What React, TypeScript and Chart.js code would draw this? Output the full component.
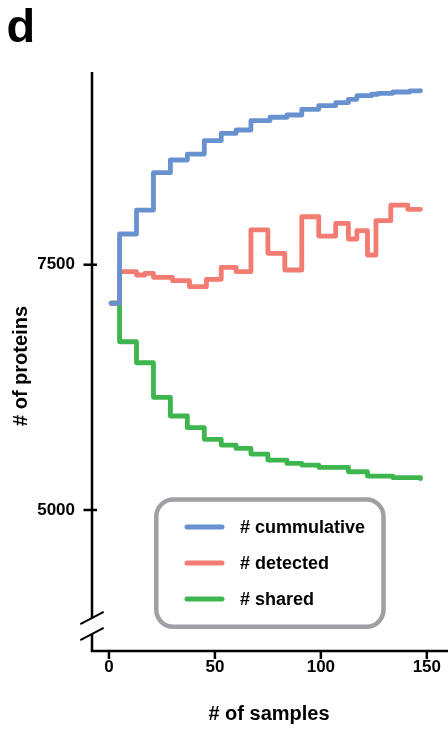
import React, { useEffect, useRef } from "react";
import { Chart, registerables } from "chart.js";

Chart.register(...registerables);

// Sample index at which each series changes level, and the level it takes there.
const cumulativeSamples = [1, 5, 13, 21, 29, 37, 45, 53, 60, 67, 76, 84, 91, 99, 107, 113, 117, 124, 127, 134, 142, 147];
const cumulativeValues = [7107, 7813, 8057, 8438, 8567, 8628, 8764, 8839, 8873, 8968, 9003, 9026, 9084, 9121, 9151, 9186, 9223, 9237, 9247, 9260, 9271, 9275];

const detectedSamples = [1, 5, 13, 17, 21, 30, 38, 46, 53, 60, 67, 75, 83, 91, 99, 107, 113, 117, 122, 126, 133, 141, 147];
const detectedValues = [7107, 7429, 7395, 7412, 7371, 7337, 7276, 7351, 7473, 7429, 7854, 7616, 7446, 7989, 7792, 7922, 7762, 7847, 7599, 7949, 8108, 8064, 8064];

const sharedSamples = [1, 5, 13, 21, 29, 37, 45, 53, 60, 67, 75, 84, 91, 99, 113, 122, 134, 147];
const sharedValues = [7107, 6715, 6501, 6148, 5958, 5839, 5720, 5662, 5628, 5570, 5509, 5475, 5458, 5435, 5390, 5346, 5329, 5319];

const seriesLabels = ["# cummulative", "# detected", "# shared"];
const xTickValues = [0, 50, 100, 150];
const yTickValues = [5000, 7500];
const xTitle = "# of samples";
const yTitle = "# of proteins";
const panelLetter = "d";

const COLORS = ["#6892CF", "#F27B72", "#3EB64E"];
const FONT = "'Liberation Sans', Arial, Helvetica, sans-serif";

const toPoints = (xs: number[], ys: number[]) => xs.map((x, i) => ({ x, y: ys[i] }));

// Axes with a broken y axis, tick marks, titles, panel letter and a boxed legend.
const decorPlugin = {
  id: "decor",
  afterDraw(chart: any) {
    const { ctx, chartArea, scales } = chart;
    const { left, top, bottom } = chartArea;
    const xs = scales.x;
    const ys = scales.y;
    const W = chart.width;

    ctx.save();
    ctx.strokeStyle = "#000";
    ctx.lineCap = "butt";
    ctx.lineWidth = 2.5;

    // y axis, interrupted by the break
    const breakHi = bottom - 33;
    const breakLo = bottom - 17;
    ctx.beginPath();
    ctx.moveTo(left, top);
    ctx.lineTo(left, breakHi);
    ctx.moveTo(left, breakLo);
    ctx.lineTo(left, bottom);
    ctx.stroke();

    // break slashes
    ctx.lineWidth = 2;
    for (const cy of [breakHi, breakLo]) {
      ctx.beginPath();
      ctx.moveTo(left - 11.7, cy + 6.2);
      ctx.lineTo(left + 11.7, cy - 6.2);
      ctx.stroke();
    }

    // x axis
    ctx.lineWidth = 2.5;
    ctx.beginPath();
    ctx.moveTo(left - 1.25, bottom);
    ctx.lineTo(W, bottom);
    ctx.stroke();

    // tick marks
    for (const v of yTickValues) {
      const py = ys.getPixelForValue(v);
      ctx.beginPath();
      ctx.moveTo(left - 8.5, py);
      ctx.lineTo(left + 5, py);
      ctx.stroke();
    }
    for (const v of xTickValues) {
      const px = xs.getPixelForValue(v);
      ctx.beginPath();
      ctx.moveTo(px, bottom);
      ctx.lineTo(px, bottom + 8);
      ctx.stroke();
    }

    // axis titles
    ctx.fillStyle = "#000";
    ctx.font = `bold 20px ${FONT}`;
    ctx.textAlign = "center";
    ctx.textBaseline = "alphabetic";
    ctx.fillText(xTitle, 269, 720);

    ctx.save();
    ctx.translate(27, 366);
    ctx.rotate(-Math.PI / 2);
    ctx.fillText(yTitle, 0, 0);
    ctx.restore();

    // panel letter
    ctx.textAlign = "left";
    ctx.font = `bold 47px ${FONT}`;
    ctx.fillText(panelLetter, 6.5, 41.5);

    // legend box
    const bx = 156.3, by = 499.5, bw = 227.2, bh = 127.3, r = 17;
    ctx.beginPath();
    ctx.moveTo(bx + r, by);
    ctx.lineTo(bx + bw - r, by);
    ctx.arcTo(bx + bw, by, bx + bw, by + r, r);
    ctx.lineTo(bx + bw, by + bh - r);
    ctx.arcTo(bx + bw, by + bh, bx + bw - r, by + bh, r);
    ctx.lineTo(bx + r, by + bh);
    ctx.arcTo(bx, by + bh, bx, by + bh - r, r);
    ctx.lineTo(bx, by + r);
    ctx.arcTo(bx, by, bx + r, by, r);
    ctx.closePath();
    ctx.fillStyle = "#fff";
    ctx.fill();
    ctx.strokeStyle = "#A0A0A4";
    ctx.lineWidth = 4.5;
    ctx.stroke();

    ctx.font = `bold 18px ${FONT}`;
    ctx.textBaseline = "middle";
    ctx.lineCap = "round";
    chart.data.datasets.forEach((ds: any, i: number) => {
      const ly = 527 + i * 36;
      ctx.strokeStyle = ds.borderColor;
      ctx.lineWidth = 5;
      ctx.beginPath();
      ctx.moveTo(187, ly);
      ctx.lineTo(222, ly);
      ctx.stroke();
      ctx.fillStyle = "#000";
      ctx.fillText(ds.label, 240, ly + 1);
    });

    ctx.restore();
  },
};

export default function App() {
  const canvasRef = useRef<HTMLCanvasElement | null>(null);

  useEffect(() => {
    document.body.style.margin = "0";
    const canvas = canvasRef.current;
    if (!canvas) return;

    const lineStyle = {
      borderWidth: 4.8,
      pointRadius: 0,
      stepped: "before" as const,
      fill: false,
      tension: 0,
      borderCapStyle: "round" as const,
      borderJoinStyle: "round" as const,
    };

    const tickFont = { family: FONT, size: 17, weight: "bold" as const };
    const plainLabel = (v: any) => String(v);

    const chart = new Chart(canvas, {
      type: "line",
      data: {
        datasets: [
          { label: seriesLabels[0], data: toPoints(cumulativeSamples, cumulativeValues), borderColor: COLORS[0], ...lineStyle },
          { label: seriesLabels[1], data: toPoints(detectedSamples, detectedValues), borderColor: COLORS[1], ...lineStyle },
          { label: seriesLabels[2], data: toPoints(sharedSamples, sharedValues), borderColor: COLORS[2], ...lineStyle },
        ],
      },
      options: {
        responsive: false,
        animation: false,
        devicePixelRatio: 1,
        layout: { padding: { top: 72, left: 0, right: 0, bottom: 0 } },
        plugins: {
          legend: { display: false },
          tooltip: { enabled: false },
        },
        scales: {
          x: {
            type: "linear",
            min: -8,
            max: 160,
            border: { display: false },
            grid: { display: false, drawTicks: false },
            ticks: { font: tickFont, color: "#000", padding: 6, maxRotation: 0, callback: plainLabel },
            afterBuildTicks: (s: any) => {
              s.ticks = xTickValues.map((value) => ({ value }));
            },
            afterFit: (s: any) => {
              s.height = 78;
            },
          },
          y: {
            type: "linear",
            min: 3563,
            max: 9464,
            border: { display: false },
            grid: { display: false, drawTicks: false },
            ticks: { font: tickFont, color: "#000", padding: 17, callback: plainLabel },
            afterBuildTicks: (s: any) => {
              s.ticks = yTickValues.map((value) => ({ value }));
            },
            afterFit: (s: any) => {
              s.width = 92;
            },
          },
        },
      },
      plugins: [decorPlugin],
    });

    return () => chart.destroy();
  }, []);

  return (
    <div style={{ width: 448, height: 729, background: "#fff" }}>
      <canvas ref={canvasRef} width={448} height={729} style={{ display: "block" }} />
    </div>
  );
}
